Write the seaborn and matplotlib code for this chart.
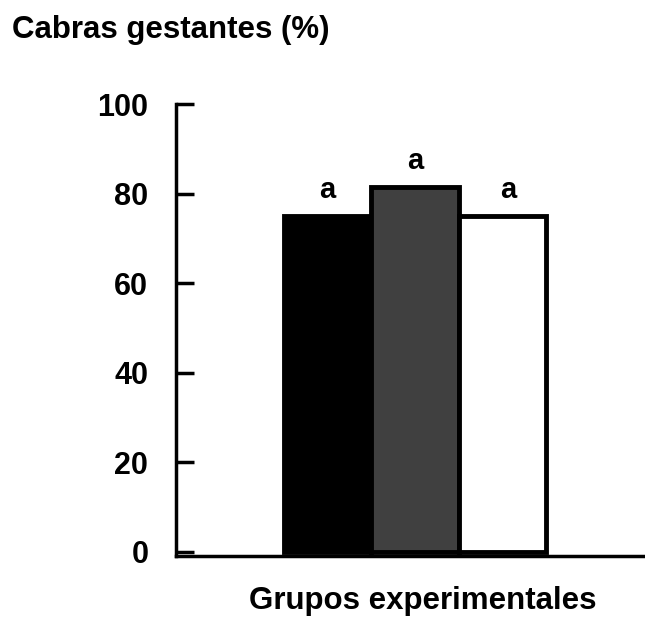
import numpy as np
import pandas as pd
import matplotlib
matplotlib.use("Agg")
import matplotlib.pyplot as plt
import seaborn as sns

# data
grupos = ["Grupo 1", "Grupo 2", "Grupo 3"]
gestantes = [75, 81.5, 75]
letras = ["a", "a", "a"]
colores = ["#000000", "#404040", "#ffffff"]

sns.set_style("ticks")
plt.rcParams["font.family"] = ["Liberation Sans", "DejaVu Sans"]
plt.rcParams["font.weight"] = "bold"
plt.rcParams["text.color"] = "black"
plt.rcParams["axes.edgecolor"] = "black"
plt.rcParams["ytick.color"] = "black"
plt.rcParams["ytick.labelcolor"] = "black"

df = pd.DataFrame({"grupo": grupos, "pct": gestantes})

fig = plt.figure(figsize=(6.45, 6.18), dpi=100)
ax = fig.add_axes([0.273, 0.1003, 0.727, 0.731])

sns.barplot(data=df, x="grupo", y="pct", hue="grupo", palette=colores,
            width=1.0, edgecolor="black", linewidth=3.5, legend=False, ax=ax)

# significance letters above bars
for i, (v, l) in enumerate(zip(gestantes, letras)):
    dx = 0.07 if i == 2 else 0
    ax.text(i + dx, v + 5.8, l, ha="center", va="center", fontsize=21, fontweight="bold")

ax.set_xlim(-1.73, 3.63)
ax.set_ylim(-0.9, 100)
ax.set_yticks([0, 20, 40, 60, 80, 100])
ax.set_xticks([])
ax.set_xlabel("")
ax.set_ylabel("")
ax.tick_params(axis="y", direction="in", length=13, width=2.5, pad=20, labelsize=22)
for lab in ax.get_yticklabels():
    lab.set_fontweight("bold")
sns.despine(ax=ax)
ax.spines["left"].set_linewidth(2.5)
ax.spines["bottom"].set_linewidth(2.5)
ax.spines["left"].set_bounds(-0.9, 100)

fig.text(0.018, 0.952, "Cabras gestantes (%)", fontsize=22.5, fontweight="bold", ha="left", va="center")
fig.text(0.655, 0.028, "Grupos experimentales", fontsize=22.5, fontweight="bold", ha="center", va="center")

fig.savefig("out.png", dpi=100)
